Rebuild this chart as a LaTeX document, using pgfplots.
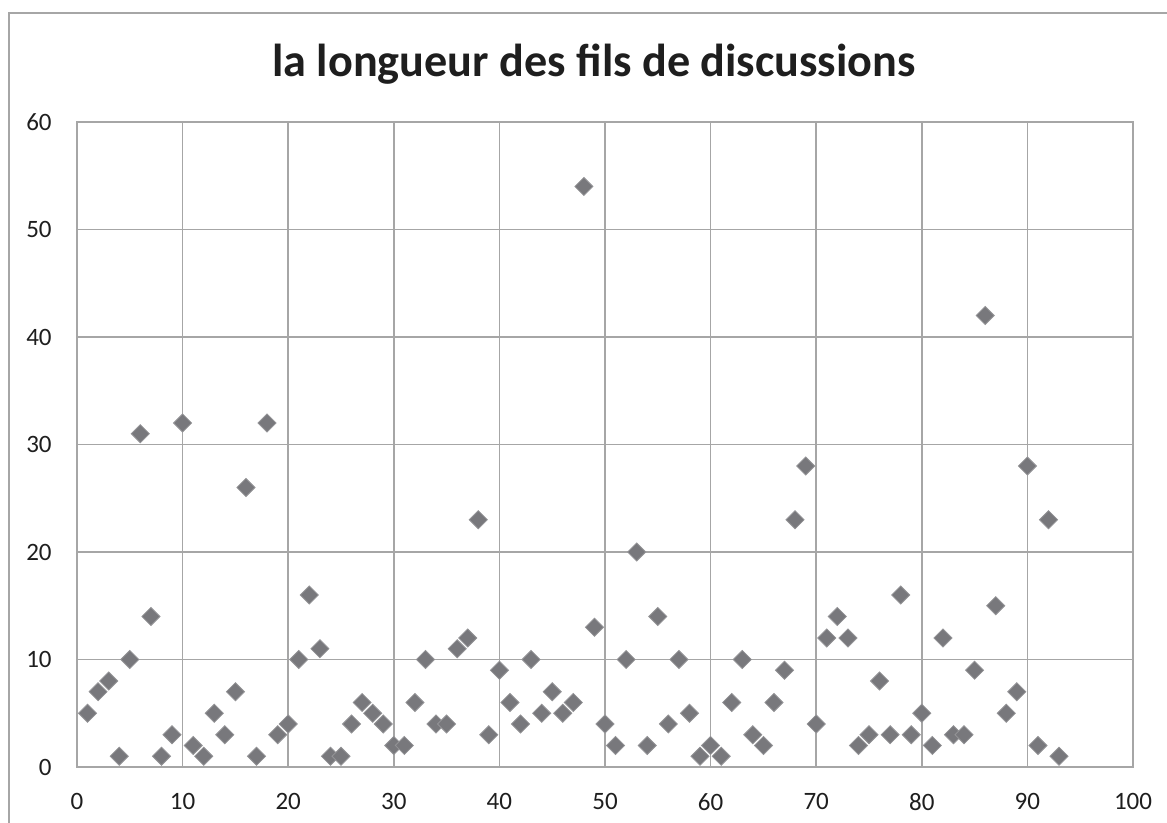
\documentclass[border=0pt]{standalone}
\usepackage{pgfplots}
\pgfplotsset{compat=1.18}
\usepackage{fontspec}
\setmainfont{Carlito}
\definecolor{gridgray}{RGB}{166,166,166}
\definecolor{markgray}{RGB}{120,120,124}
\definecolor{txt}{RGB}{30,30,30}
\begin{document}
\begin{tikzpicture}
\useasboundingbox (0,0) rectangle (583.5pt,411.5pt);
\draw[gridgray, line width=0.75pt] (4.5pt,-5pt) -- (4.5pt,405pt) -- (600pt,405pt);
\node[font=\fontsize{23.1}{27}\selectfont\bfseries, text=txt, anchor=base, inner sep=0pt] at (297pt,373.2pt) {la longueur des fils de discussions};
\begin{axis}[at={(38.5pt,28pt)}, anchor=south west, scale only axis,
  width=528pt, height=322.5pt,
  xmin=0, xmax=100, ymin=0, ymax=60,
  xtick={0,10,...,100}, ytick={0,10,...,60},
  grid=major, major grid style={gridgray, line width=0.75pt},
  axis line style={gridgray, line width=0.75pt},
  major tick length=0pt,
  tick label style={font=\fontsize{12.5}{15}\selectfont, text=txt},
  /pgf/number format/assume math mode=true,
  xticklabel style={inner sep=0pt, yshift=-13pt},
  yticklabel style={inner sep=0pt, xshift=-12.5pt}]
\addplot[only marks, mark=square*, mark size=3.2pt,
  mark options={rotate=45, fill=markgray, draw=markgray!80!white, line width=0.4pt}]
coordinates {
(1,5)(2,7)(3,8)(4,1)(5,10)(6,31)(7,14)(8,1)(9,3)(10,32)
(11,2)(12,1)(13,5)(14,3)(15,7)(16,26)(17,1)(18,32)(19,3)(20,4)
(21,10)(22,16)(23,11)(24,1)(25,1)(26,4)(27,6)(28,5)(29,4)(30,2)
(31,2)(32,6)(33,10)(34,4)(35,4)(36,11)(37,12)(38,23)(39,3)(40,9)
(41,6)(42,4)(43,10)(44,5)(45,7)(46,5)(47,6)(48,54)(49,13)(50,4)
(51,2)(52,10)(53,20)(54,2)(55,14)(56,4)(57,10)(58,5)(59,1)(60,2)
(61,1)(62,6)(63,10)(64,3)(65,2)(66,6)(67,9)(68,23)(69,28)(70,4)
(71,12)(72,14)(73,12)(74,2)(75,3)(76,8)(77,3)(78,16)(79,3)(80,5)
(81,2)(82,12)(83,3)(84,3)(85,9)(86,42)(87,15)(88,5)(89,7)(90,28)
(91,2)(92,23)(93,1)
};
\end{axis}
\end{tikzpicture}
\end{document}
